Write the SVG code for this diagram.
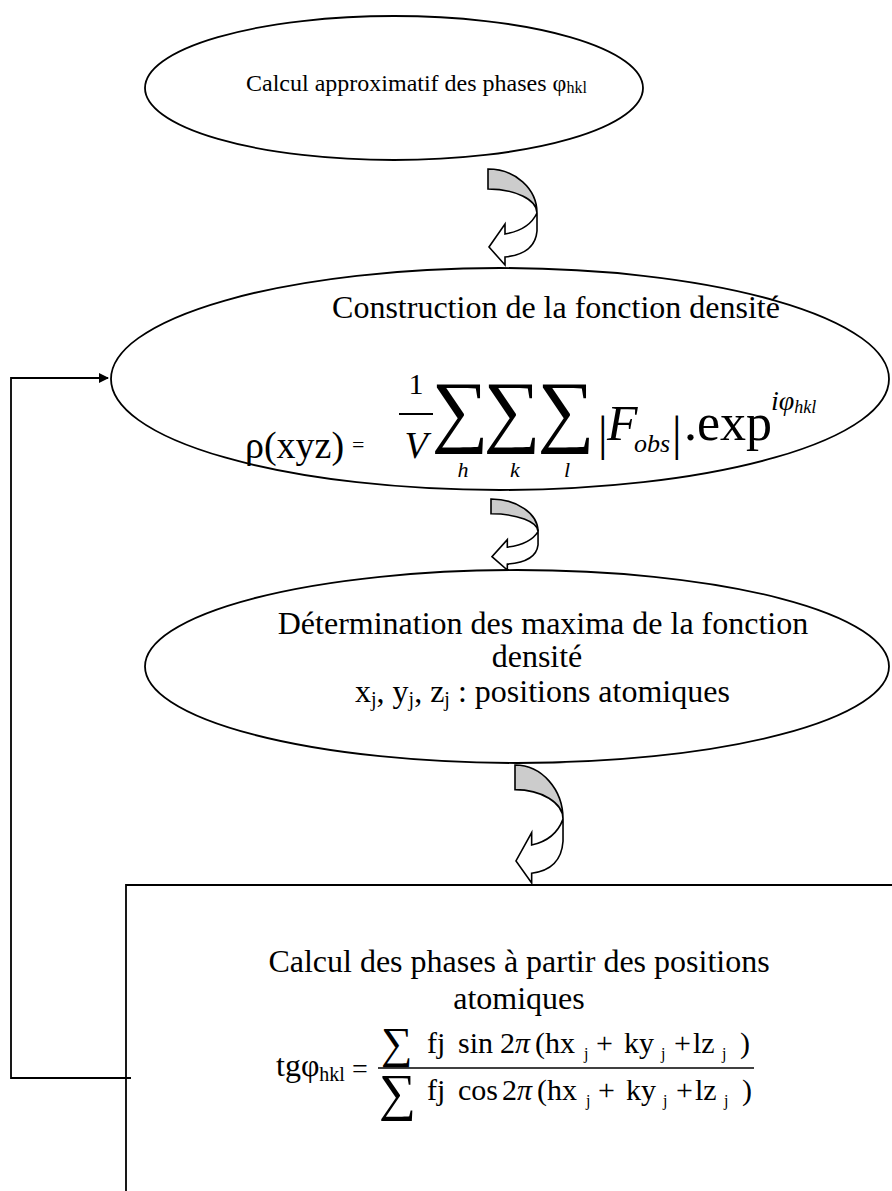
<svg xmlns="http://www.w3.org/2000/svg" width="892" height="1191" viewBox="0 0 892 1191">
<defs>
<style>
.node{fill:#fff;stroke:#000;stroke-width:1.8}
.t{font-family:"Liberation Serif","Times New Roman",serif;fill:#000}
.i{font-style:italic}
.shade{fill:#cccccc;stroke:#000;stroke-width:1.6;vector-effect:non-scaling-stroke}
.front{fill:#fff;stroke:#000;stroke-width:1.6;vector-effect:non-scaling-stroke;stroke-linejoin:miter}
.line{fill:none;stroke:#000;stroke-width:1.8}
</style>
<marker id="ah" markerWidth="10" markerHeight="10" refX="9" refY="5" orient="auto" markerUnits="userSpaceOnUse" viewBox="0 0 10 10">
<path d="M0,0 L10,5 L0,10 Z" fill="#000"/>
</marker>
<g id="curvedArrow">
<path class="shade" d="M0,0 A49,44 0 0 1 49,44 A49,24 0 0 0 0,20 Z"/>
<path class="front" d="M49,44 L49,62 Q47,85 17,88 L17,96 L1,78 L17,55 L17,65 Q41,61 49,44 Z"/>
</g>
</defs>
<rect width="892" height="1191" fill="#fff"/>

<g id="connectors">
<use href="#curvedArrow" transform="translate(488,169)"/>
<use href="#curvedArrow" transform="translate(491,499) scale(0.96,0.74)"/>
<use href="#curvedArrow" transform="translate(515,765) scale(0.98,1.23)"/>
<polyline class="line" points="131,1078 11,1078 11,378 108,378" marker-end="url(#ah)"/>
</g>

<g id="node1">
<ellipse class="node" cx="394" cy="88" rx="249" ry="72"/>
<text class="t" x="246" y="91" font-size="24">Calcul approximatif des phases φ<tspan font-size="16" dy="2">hkl</tspan></text>
</g>

<g id="node2">
<ellipse class="node" cx="500" cy="379" rx="389" ry="111"/>
<text class="t" x="556" y="318" font-size="32" text-anchor="middle">Construction de la fonction densité</text>
<text class="t" x="245" y="458" font-size="38">ρ(xyz)</text>
<text class="t" x="352" y="452" font-size="22">=</text>
<text class="t" x="416" y="394" font-size="30" text-anchor="middle">1</text>
<line x1="399" y1="414" x2="433" y2="414" stroke="#000" stroke-width="2"/>
<text class="t i" x="416" y="458" font-size="38" text-anchor="middle">V</text>
<text class="t" y="437" font-size="80" text-anchor="middle"><tspan x="460">∑</tspan><tspan x="512">∑</tspan><tspan x="566">∑</tspan></text>
<text class="t i" y="477" font-size="22" text-anchor="middle"><tspan x="463">h</tspan><tspan x="515">k</tspan><tspan x="567">l</tspan></text>
<text class="t" x="598" y="450" font-size="48">|</text>
<text class="t i" x="607" y="440" font-size="50">F</text>
<text class="t i" x="634" y="452" font-size="26">obs</text>
<text class="t" x="672" y="450" font-size="48">|</text>
<text class="t" x="684" y="440" font-size="52">.exp</text>
<text class="t i" x="771" y="410" font-size="28">iφ<tspan font-size="18" dy="3">hkl</tspan></text>
</g>

<g id="node3">
<ellipse class="node" cx="517" cy="666.5" rx="372" ry="96.5"/>
<text class="t" x="543" y="634" font-size="32" text-anchor="middle">Détermination des maxima de la fonction</text>
<text class="t" x="537" y="667" font-size="32" text-anchor="middle">densité</text>
<text class="t" x="355" y="702" font-size="32">x<tspan font-size="20" dy="4">j</tspan><tspan dy="-4">, y</tspan><tspan font-size="20" dy="4">j</tspan><tspan dy="-4">, z</tspan><tspan font-size="20" dy="4">j</tspan><tspan dy="-4"> : positions atomiques</tspan></text>
</g>

<g id="node4">
<path class="line" d="M126,1191 L126,885 L892,885"/>
<text class="t" x="519" y="972" font-size="32" text-anchor="middle">Calcul des phases à partir des positions</text>
<text class="t" x="519" y="1009" font-size="32" text-anchor="middle">atomiques</text>
<text class="t" x="276" y="1076" font-size="32">tgφ<tspan font-size="20" dy="5">hkl</tspan></text>
<text class="t" x="352" y="1078" font-size="28">=</text>
<line x1="378" y1="1068" x2="754" y2="1068" stroke="#000" stroke-width="1.5"/>
<text class="t" x="381" y="1058" font-size="44">∑</text>
<text class="t" x="379" y="1110" font-size="52">∑</text>
<text class="t" y="1053" font-size="30"><tspan x="427">fj</tspan><tspan x="458">sin</tspan><tspan x="500">2</tspan><tspan x="515" font-style="italic">π</tspan><tspan x="535">(hx</tspan><tspan x="584" font-size="16" dy="6">j</tspan><tspan x="596" dy="-6">+</tspan><tspan x="624">ky</tspan><tspan x="661" font-size="16" dy="6">j</tspan><tspan x="674" dy="-6">+</tspan><tspan x="693">lz</tspan><tspan x="722" font-size="16" dy="6">j</tspan><tspan x="740" dy="-6">)</tspan></text>
<text class="t" y="1100" font-size="30"><tspan x="427">fj</tspan><tspan x="458">cos</tspan><tspan x="502">2</tspan><tspan x="517" font-style="italic">π</tspan><tspan x="537">(hx</tspan><tspan x="586" font-size="16" dy="6">j</tspan><tspan x="598" dy="-6">+</tspan><tspan x="626">ky</tspan><tspan x="663" font-size="16" dy="6">j</tspan><tspan x="676" dy="-6">+</tspan><tspan x="695">lz</tspan><tspan x="724" font-size="16" dy="6">j</tspan><tspan x="742" dy="-6">)</tspan></text>
</g>
</svg>
